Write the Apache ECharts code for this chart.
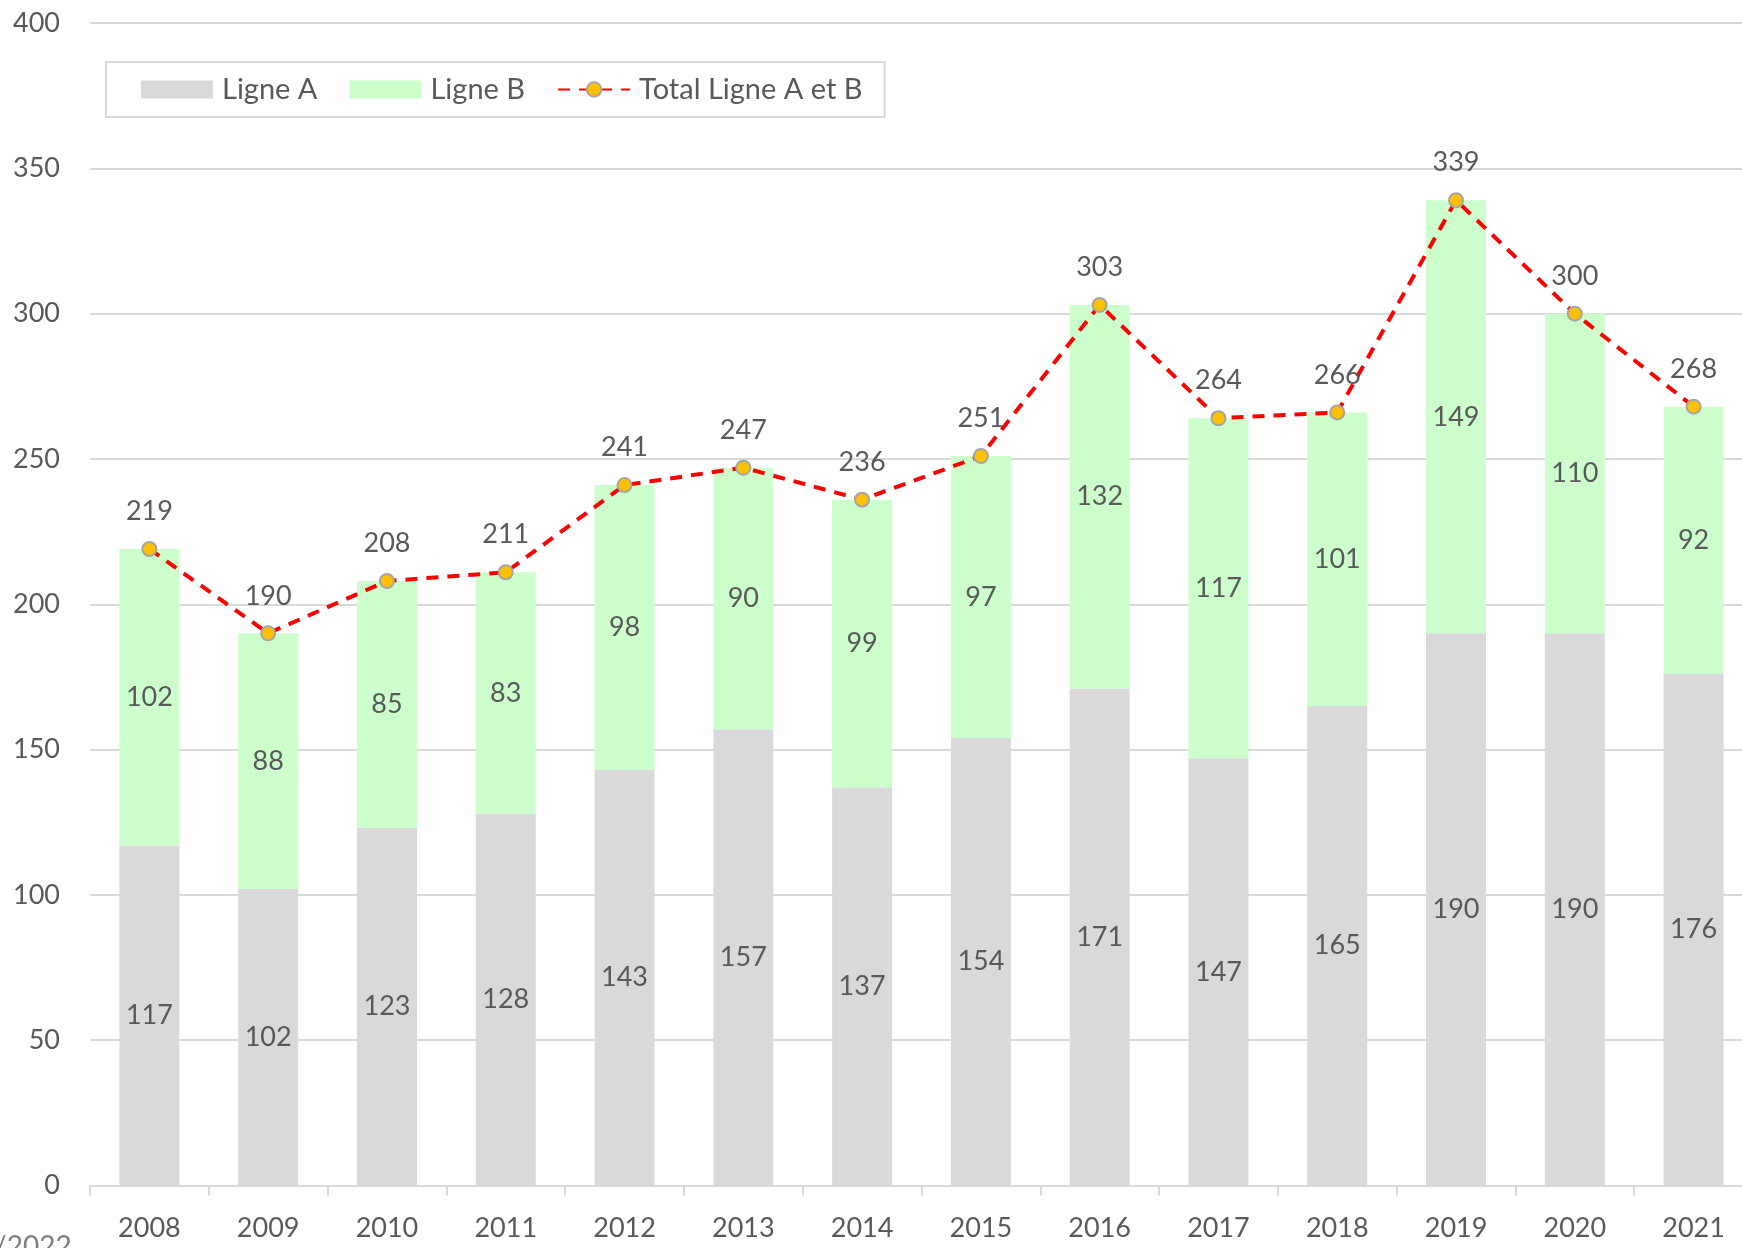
<!DOCTYPE html>
<html>
<head>
<meta charset="utf-8">
<style>
  html, body { margin: 0; padding: 0; background: #ffffff; }
  #main { width: 1742px; height: 1248px; }
</style>
<script src="https://cdn.jsdelivr.net/npm/echarts@6/dist/echarts.min.js"></script>
</head>
<body>
<div id="main"></div>
<script>
// données
var years = ['2008', '2009', '2010', '2011', '2012', '2013', '2014', '2015', '2016', '2017', '2018', '2019', '2020', '2021'];
var ligneA = [117, 102, 123, 128, 143, 157, 137, 154, 171, 147, 165, 190, 190, 176];
var ligneB = [102, 88, 85, 83, 98, 90, 99, 97, 132, 117, 101, 149, 110, 92];
var totalAB = [219, 190, 208, 211, 241, 247, 236, 251, 303, 264, 266, 339, 300, 268];

var font = 'Lato, "Open Sans", sans-serif';
var txt = '#595959';
var gridGray = '#d9d9d9';

var myChart = echarts.init(document.getElementById('main'));
myChart.setOption({
  animation: false,
  textStyle: { fontFamily: font },
  grid: { left: 90, width: 1663, top: 23, bottom: 62.5, containLabel: false, outerBoundsMode: 'none' },
  legend: {
    left: 106,
    top: 62,
    padding: [13, 22, 13, 35],
    itemGap: 32,
    itemWidth: 72,
    itemHeight: 18,
    borderColor: gridGray,
    borderWidth: 2,
    textStyle: { color: txt, fontSize: 29, fontFamily: font, padding: [0, 0, 0, 4] },
    data: [
      { name: 'Ligne A', icon: 'rect' },
      { name: 'Ligne B', icon: 'rect' },
      'Total Ligne A et B'
    ]
  },
  xAxis: {
    type: 'category',
    data: years,
    axisLine: { lineStyle: { color: gridGray, width: 2 } },
    axisTick: { show: true, length: 10, lineStyle: { color: gridGray, width: 2 } },
    axisLabel: { color: txt, fontSize: 27, margin: 29, fontFamily: font }
  },
  yAxis: {
    type: 'value',
    min: 0,
    max: 400,
    interval: 50,
    axisLine: { show: false },
    axisTick: { show: false },
    splitLine: { lineStyle: { color: gridGray, width: 2 } },
    axisLabel: { color: txt, fontSize: 27, margin: 30, fontFamily: font }
  },
  series: [
    {
      name: 'Ligne A',
      type: 'bar',
      stack: 'total',
      barWidth: 60,
      itemStyle: { color: '#d9d9d9' },
      label: { show: true, position: 'inside', color: txt, fontSize: 27, fontFamily: font },
      data: ligneA
    },
    {
      name: 'Ligne B',
      type: 'bar',
      stack: 'total',
      barWidth: 60,
      itemStyle: { color: '#ccffcc' },
      label: { show: true, position: 'inside', color: txt, fontSize: 27, fontFamily: font },
      data: ligneB
    },
    {
      name: 'Total Ligne A et B',
      type: 'line',
      symbol: 'circle',
      symbolSize: 14,
      lineStyle: { color: '#ff0000', width: 4, type: [12, 9] },
      itemStyle: { color: '#ffc000', borderColor: '#a5a5a5', borderWidth: 2 },
      label: { show: true, position: 'top', distance: 16, color: txt, fontSize: 27, fontFamily: font },
      z: 5,
      data: totalAB
    }
  ],
  graphic: [
    {
      type: 'text',
      left: -6,
      top: 1233,
      style: { text: '/2022', fill: '#7f7f7f', font: '28px ' + font }
    }
  ]
});
</script>
</body>
</html>
